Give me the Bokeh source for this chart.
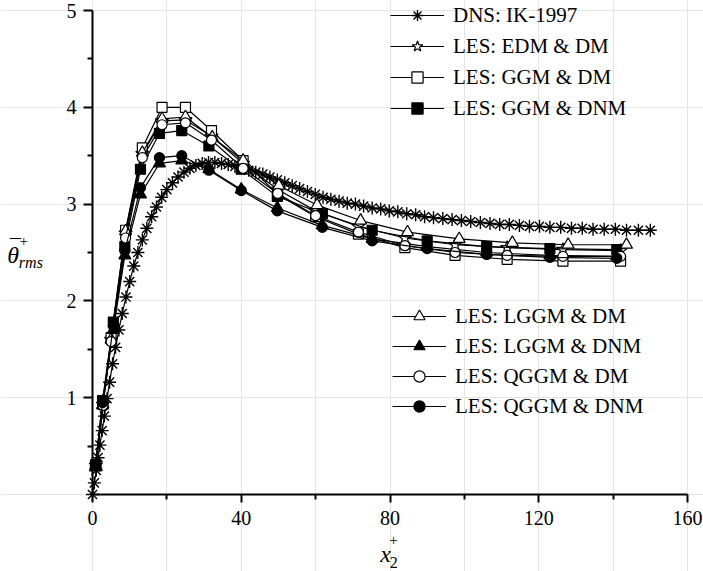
from bokeh.plotting import figure
from bokeh.models import (Range1d, FixedTicker, Legend, LegendItem, Label, LinearAxis)
from bokeh.embed import file_html
from bokeh.resources import INLINE

# ---------------- data ----------------
x_dns = [0, 0.5, 1.0, 1.5, 2.0, 2.6, 3.2, 3.9, 4.6, 5.4,
         6.2, 7.1, 8.0, 9.0, 10.0, 11.1, 12.2, 13.4, 14.6, 15.9,
         17.2, 18.6, 20.0, 21.5, 23.0, 24.6, 26.2, 27.8, 29.5, 31.2,
         32.9, 34.7, 36.5, 38.3, 40.1, 42.0, 43.9, 45.8, 47.7, 49.7,
         51.7, 53.7, 55.7, 57.8, 59.9, 62.0, 64.1, 66.3, 68.5, 70.7,
         72.9, 75.2, 77.5, 79.8, 82.1, 84.5, 86.9, 89.3, 91.7, 94.2,
         96.7, 99.2, 101.7, 104.3, 106.9, 109.5, 112.1, 114.8, 117.5, 120.2,
         123.0, 125.9, 128.8, 131.7, 134.6, 137.6, 140.6, 143.6, 146.8, 150.0]
y_dns = [0.00, 0.12, 0.25, 0.38, 0.51, 0.66, 0.81, 0.99, 1.16, 1.35,
         1.52, 1.70, 1.87, 2.04, 2.20, 2.36, 2.50, 2.63, 2.75, 2.87,
         2.97, 3.07, 3.15, 3.22, 3.28, 3.33, 3.37, 3.40, 3.42, 3.43,
         3.43, 3.42, 3.41, 3.39, 3.37, 3.35, 3.33, 3.31, 3.28, 3.25,
         3.22, 3.19, 3.16, 3.13, 3.10, 3.07, 3.05, 3.03, 3.01, 3.00,
         2.98, 2.96, 2.95, 2.93, 2.92, 2.90, 2.89, 2.87, 2.86, 2.85,
         2.84, 2.83, 2.82, 2.81, 2.80, 2.79, 2.79, 2.78, 2.77, 2.77,
         2.76, 2.76, 2.75, 2.75, 2.74, 2.74, 2.74, 2.73, 2.73, 2.73]

x_dm = [0.9, 2.8, 5.0, 8.9, 13.4, 18.7, 25.0, 32.0, 40.5, 49.8,
        60.0, 71.5, 84.0, 97.5, 111.5, 126.5, 142.0]
x_lggm_dm = [0.9, 2.8, 5.0, 8.9, 13.4, 18.7, 25.0, 32.2, 40.5, 50.1,
             60.4, 72.1, 84.7, 98.6, 112.9, 127.9, 143.6]
x_dnm = [0.8, 2.7, 5.6, 8.7, 12.9, 18.0, 24.0, 31.3, 40.0, 49.7,
         61.8, 75.2, 90.0, 106.0, 123.0, 141.0]

y_edm_dm = [0.30, 0.93, 1.60, 2.70, 3.52, 3.86, 3.87, 3.70, 3.42, 3.15,
            2.93, 2.77, 2.65, 2.58, 2.55, 2.53, 2.52]
y_ggm_dm = [0.31, 0.95, 1.62, 2.73, 3.58, 4.00, 4.00, 3.76, 3.45, 3.10,
            2.87, 2.69, 2.55, 2.47, 2.43, 2.41, 2.41]
y_lggm_dm = [0.30, 0.93, 1.60, 2.72, 3.53, 3.88, 3.90, 3.69, 3.45, 3.19,
             2.99, 2.83, 2.71, 2.64, 2.60, 2.58, 2.58]
y_qggm_dm = [0.30, 0.92, 1.58, 2.65, 3.48, 3.82, 3.84, 3.66, 3.37, 3.11,
             2.88, 2.71, 2.57, 2.50, 2.47, 2.46, 2.46]
y_ggm_dnm = [0.30, 0.97, 1.78, 2.56, 3.36, 3.73, 3.76, 3.60, 3.36, 3.08,
             2.90, 2.73, 2.62, 2.56, 2.54, 2.53]
y_lggm_dnm = [0.28, 0.92, 1.70, 2.47, 3.10, 3.42, 3.45, 3.36, 3.15, 2.96,
              2.78, 2.64, 2.56, 2.50, 2.47, 2.46]
y_qggm_dnm = [0.30, 0.95, 1.74, 2.52, 3.17, 3.48, 3.50, 3.35, 3.14, 2.93,
              2.76, 2.62, 2.54, 2.48, 2.45, 2.44]

labels_top = ["DNS: IK-1997", "LES: EDM & DM", "LES: GGM & DM", "LES: GGM & DNM"]
labels_bottom = ["LES: LGGM & DM", "LES: LGGM & DNM", "LES: QGGM & DM", "LES: QGGM & DNM"]

x_ticks = [0, 40, 80, 120, 160]
x_minor = [20, 60, 100, 140]
y_ticks = [1, 2, 3, 4, 5]
y_minor = [0.5, 1.5, 2.5, 3.5, 4.5]

# ---------------- figure ----------------
# The frame fills the whole page; the axes sit at x=0 / y=0 inside it,
# so the axis titles and legends are not clipped.
W, H = 703, 571
X0PX, X1PX, Y0PX, Y1PX = 92.0, 687.0, 494.0, 10.0   # pixel positions of 0..160 and 0..5
sx = (X1PX - X0PX) / 160.0
sy = (Y0PX - Y1PX) / 5.0
x_start = -X0PX / sx
x_end = x_start + W / sx
y_start = -(H - Y0PX) / sy
y_end = y_start + H / sy

FONT = "Liberation Serif"
p = figure(width=W, height=H, output_backend="svg", toolbar_location=None,
           x_range=Range1d(x_start, x_end), y_range=Range1d(y_start, y_end),
           x_axis_location=None, y_axis_location=None,
           min_border_left=0, min_border_right=0, min_border_top=0,
           min_border_bottom=0)
p.title.text = ""
p.outline_line_color = None
p.background_fill_color = "white"
p.border_fill_color = "white"

xaxis = LinearAxis(fixed_location=0, bounds=(0, 160),
                   ticker=FixedTicker(ticks=x_ticks, minor_ticks=x_minor))
yaxis = LinearAxis(fixed_location=0, bounds=(0, 5),
                   ticker=FixedTicker(ticks=y_ticks, minor_ticks=y_minor))
for ax in (xaxis, yaxis):
    ax.axis_line_width = 2
    ax.axis_line_color = "black"
    ax.major_tick_line_width = 2
    ax.minor_tick_line_width = 2
    ax.major_tick_line_color = "black"
    ax.minor_tick_line_color = "black"
    ax.major_tick_in = 0
    ax.minor_tick_in = 0
    ax.major_label_text_font = FONT
    ax.major_label_text_font_size = "20px"
    ax.major_label_text_color = "black"
xaxis.major_tick_out = 8
xaxis.minor_tick_out = 5
yaxis.major_tick_out = 9
yaxis.minor_tick_out = 5
xaxis.major_label_standoff = 8
yaxis.major_label_standoff = 7
p.add_layout(xaxis, "below")
p.add_layout(yaxis, "left")

LW = 1.2
def series(x, y, marker, size, fill, mlw=LW):
    ln = p.line(x, y, line_color="black", line_width=LW)
    sc = p.scatter(x, y, marker=marker, size=size, line_color="black",
                   line_width=mlw, fill_color=fill)
    return [ln, sc]

r_dns = series(x_dns, y_dns, "asterisk", 13, "black", 1.4)
r_edm = series(x_dm, y_edm_dm, "star", 14, "white")
r_ggm_dm = series(x_dm, y_ggm_dm, "square", 10, "white")
r_ggm_dnm = series(x_dnm, y_ggm_dnm, "square", 10, "black")
r_lggm_dm = series(x_lggm_dm, y_lggm_dm, "triangle", 12, "white")
r_lggm_dnm = series(x_dnm, y_lggm_dnm, "triangle", 12, "black")
r_qggm_dm = series(x_dm, y_qggm_dm, "circle", 10, "white")
r_qggm_dnm = series(x_dnm, y_qggm_dnm, "circle", 10, "black")

def make_legend(labels, rends, loc, spacing):
    lg = Legend(items=[LegendItem(label=l, renderers=r) for l, r in zip(labels, rends)],
                location=loc)
    lg.label_text_font = FONT
    lg.label_text_font_size = "21px"
    lg.label_text_color = "black"
    lg.glyph_width = 54
    lg.glyph_height = 28
    lg.label_standoff = 9
    lg.spacing = spacing
    lg.padding = 0
    lg.margin = 0
    lg.border_line_color = None
    lg.background_fill_alpha = 0
    p.add_layout(lg)

make_legend(labels_top, [r_dns, r_edm, r_ggm_dm, r_ggm_dnm], (390, 449), 3)
make_legend(labels_bottom, [r_lggm_dm, r_lggm_dnm, r_qggm_dm, r_qggm_dnm], (392, 151), 2)

# ---------------- axis titles (composed) ----------------
def lab(x, y, t, size, style="normal", baseline="alphabetic", align="left"):
    p.add_layout(Label(x=x, y=y, text=t, text_font=FONT, text_font_size=size,
                       text_font_style=style, text_baseline=baseline,
                       text_align=align, text_color="black"))

# y title: theta with a bar, superscript +, subscript rms
lab(-22.9, 2.47, "\u03b8", "24px", "italic")
lab(-22.2, 2.565, "\u00af", "22px")
lab(-19.6, 2.615, "+", "15px", "normal", "middle")
lab(-19.8, 2.395, "rms", "16px", "italic")
# x title: x, superscript +, subscript 2
lab(77.4, -0.61, "x", "24px", "italic")
lab(79.8, -0.475, "+", "15px", "normal", "middle")
lab(79.9, -0.70, "2", "16px")

open("out.html", "w").write(file_html(p, INLINE))
